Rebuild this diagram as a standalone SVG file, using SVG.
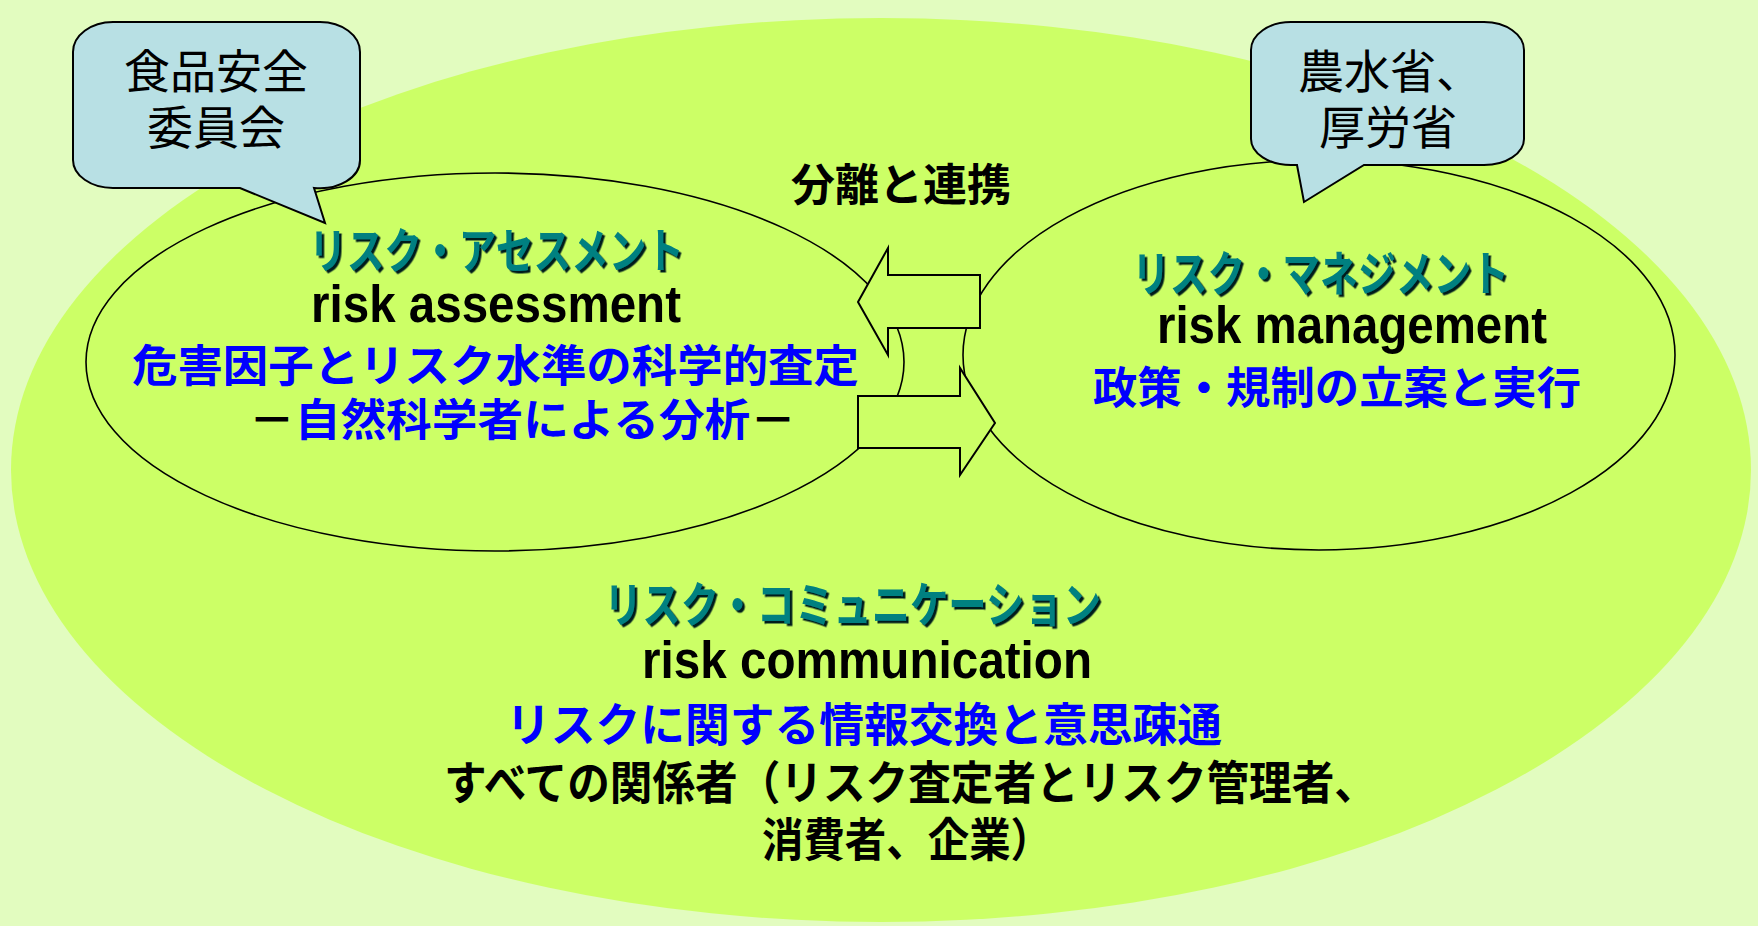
<svg xmlns="http://www.w3.org/2000/svg" width="1758" height="926" viewBox="0 0 1758 926">
<defs>
<style>
.jp{font-family:"Noto Sans CJK JP","Noto Sans CJK SC",sans-serif;}
.b{font-weight:bold;}
.en{font-family:"Liberation Sans",Arial,sans-serif;font-weight:bold;fill:#000;}
.teal{fill:#008080;font-weight:bold;filter:url(#shadow);}
.blue{fill:#0000FF;font-weight:bold;}
.blk{fill:#000;}
.node{stroke:#000;stroke-width:1.6;fill:#CCFF66;}
.call{fill:#B8E0E4;stroke:#000;stroke-width:2;}
.arrow{fill:#CCFF66;stroke:#000;stroke-width:2;stroke-linejoin:miter;}
</style>
<filter id="shadow" x="-5%" y="-20%" width="110%" height="140%">
<feDropShadow dx="2.5" dy="2.5" stdDeviation="0.4" flood-color="#001a1a" flood-opacity="1"/>
</filter>
</defs>
<rect x="0" y="0" width="1758" height="926" fill="#E2FCBF"/>

<g id="risk-communication">
<ellipse cx="881" cy="470" rx="870" ry="452" fill="#CCFF66"/>
</g>

<g id="risk-assessment">
<ellipse class="node" cx="495" cy="362" rx="409" ry="189"/>
</g>

<g id="risk-management">
<ellipse class="node" cx="1319" cy="355" rx="356" ry="195"/>
</g>

<g id="callout-fsc">
<path class="call" d="M 113 22 H 320 A 40 30 0 0 1 360 52 V 160 A 40 28 0 0 1 314 188 L 325 223 L 240 188 H 113 A 40 28 0 0 1 73 160 V 52 A 40 30 0 0 1 113 22 Z"/>
<text class="jp blk" x="216" y="88" font-size="46" text-anchor="middle">食品安全</text>
<text class="jp blk" x="216" y="144" font-size="46" text-anchor="middle">委員会</text>
</g>

<g id="callout-ministries">
<path class="call" d="M 1291 22 H 1484 A 40 28 0 0 1 1524 50 V 139 A 40 26 0 0 1 1484 165 L 1364 165 L 1304 202 L 1297 165 H 1291 A 40 26 0 0 1 1251 139 V 50 A 40 28 0 0 1 1291 22 Z"/>
<text class="jp blk" x="1390" y="88" font-size="46" text-anchor="middle">農水省、</text>
<text class="jp blk" x="1388" y="144" font-size="46" text-anchor="middle">厚労省</text>
</g>

<g id="connectors">
<polygon class="arrow" points="858,302 888,248 888,275 980,275 980,328 888,328 888,355"/>
<polygon class="arrow" points="858,396 960,396 960,368 995,423 960,475 960,448 858,448"/>
<text class="jp b blk" x="901" y="201" font-size="44" text-anchor="middle">分離と連携</text>
</g>

<g id="assessment-text">
<text class="jp teal" x="309" y="268" font-size="48" textLength="375" lengthAdjust="spacingAndGlyphs">リスク・アセスメント</text>
<text class="en" x="311" y="322" font-size="51" textLength="370" lengthAdjust="spacingAndGlyphs">risk assessment</text>
<text class="jp blue" x="132" y="382" font-size="44" textLength="727" lengthAdjust="spacingAndGlyphs">危害因子とリスク水準の科学的査定</text>
<text class="jp b" x="249" y="436" font-size="44" textLength="547" lengthAdjust="spacingAndGlyphs"><tspan fill="#000">－</tspan><tspan fill="#0000FF">自然科学者による分析</tspan><tspan fill="#000">－</tspan></text>
</g>

<g id="management-text">
<text class="jp teal" x="1132" y="291" font-size="48" textLength="377" lengthAdjust="spacingAndGlyphs">リスク・マネジメント</text>
<text class="en" x="1157" y="343" font-size="51" textLength="390" lengthAdjust="spacingAndGlyphs">risk management</text>
<text class="jp blue" x="1093" y="404" font-size="44" textLength="488" lengthAdjust="spacingAndGlyphs">政策・規制の立案と実行</text>
</g>

<g id="communication-text">
<text class="jp teal" x="604" y="622" font-size="48" textLength="497" lengthAdjust="spacingAndGlyphs">リスク・コミュニケーション</text>
<text class="en" x="642" y="678" font-size="51" textLength="450" lengthAdjust="spacingAndGlyphs">risk communication</text>
<text class="jp blue" x="506" y="741" font-size="46" textLength="716" lengthAdjust="spacingAndGlyphs">リスクに関する情報交換と意思疎通</text>
<text class="jp b blk" x="444" y="799" font-size="46" textLength="933" lengthAdjust="spacingAndGlyphs">すべての関係者（リスク査定者とリスク管理者、</text>
<text class="jp b blk" x="762" y="856" font-size="46" textLength="290" lengthAdjust="spacingAndGlyphs">消費者、企業）</text>
</g>
</svg>
